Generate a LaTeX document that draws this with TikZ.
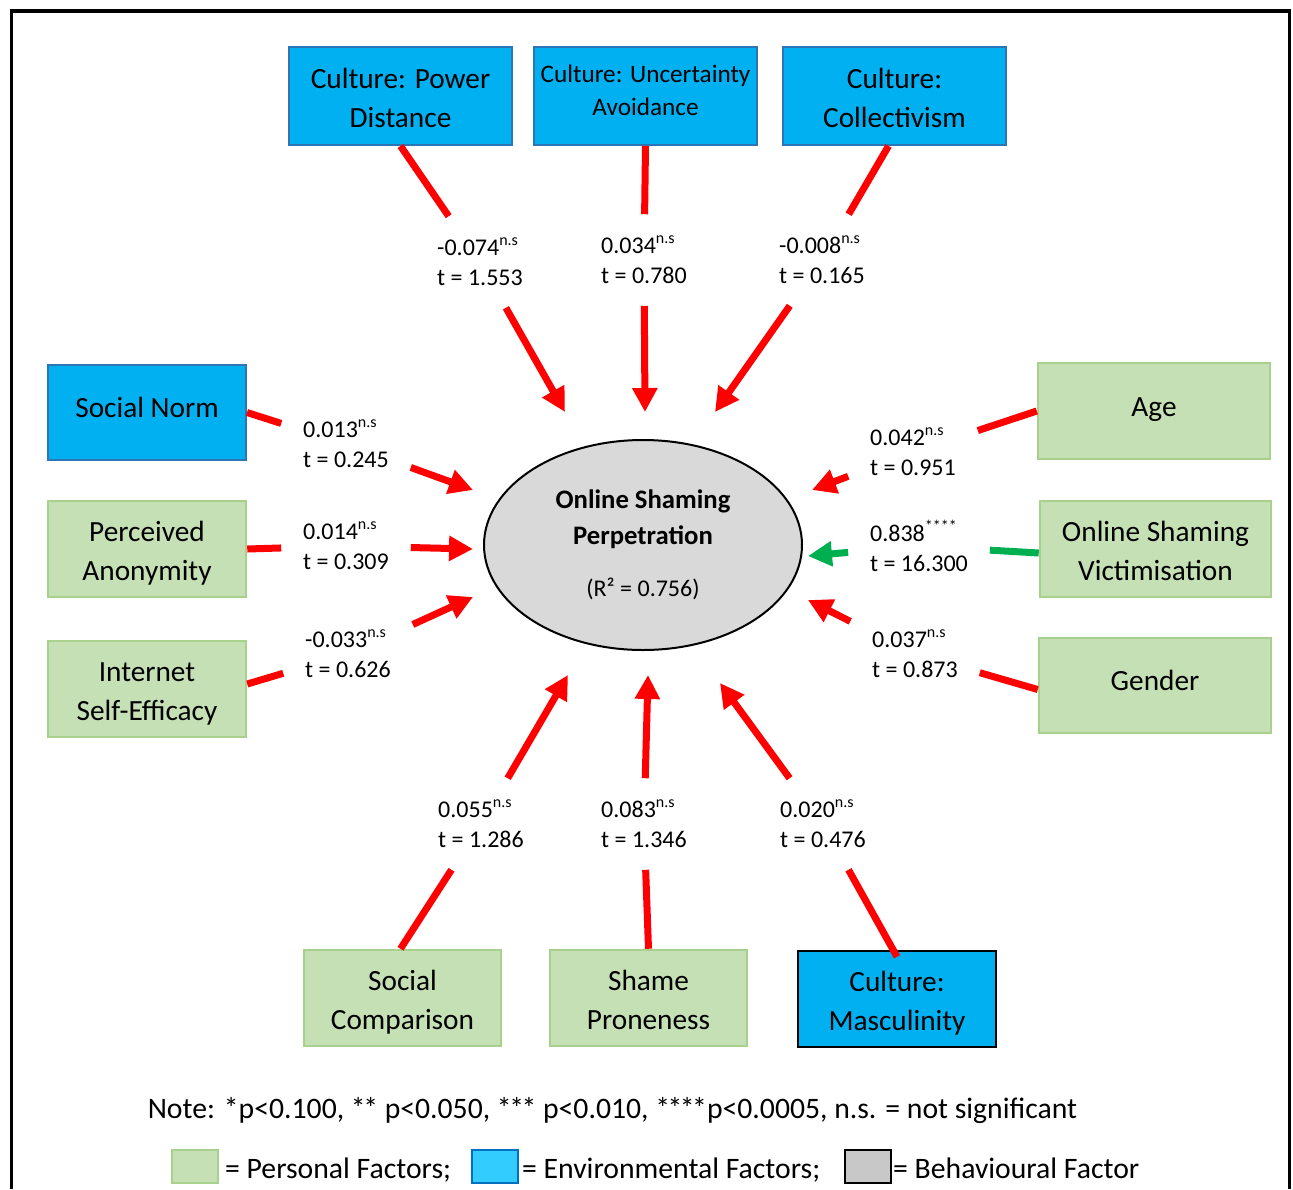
\documentclass[tikz,border=0pt]{standalone}
\usepackage{fontspec}
\setmainfont{Carlito}
\usetikzlibrary{arrows.meta,shapes.geometric}
\definecolor{envblue}{HTML}{00B0F0}
\definecolor{envedge}{HTML}{2E75B6}
\definecolor{perfill}{HTML}{C5E0B4}
\definecolor{peredge}{HTML}{A9D18E}
\definecolor{behfill}{HTML}{D9D9D9}
\definecolor{sigred}{HTML}{FF0000}
\definecolor{siggreen}{HTML}{00B050}
\definecolor{legblue}{HTML}{33CCFF}
\definecolor{legblueedge}{HTML}{0070C0}
\definecolor{leggray}{HTML}{C8C8C8}
\newcommand\nsmark{\raisebox{0.40em}{\fontsize{16}{16}\selectfont n.s}}
\newcommand\starmark[1]{\raisebox{0.40em}{\fontsize{16}{16}\selectfont #1}}
\newcommand\tst{*\kern-2.5pt}
\begin{document}
\begin{tikzpicture}[x=1pt,y=-1pt,
  box/.style={rectangle, align=center, inner sep=0pt, text=black, font=\fontsize{29.3}{39}\selectfont, text height=69pt, text depth=7pt},
  oneline/.style={text height=22pt, text depth=12pt},
  env/.style={box, fill=envblue, draw=envedge, line width=2pt},
  pers/.style={box, fill=perfill, draw=peredge, line width=2.5pt},
  lab/.style={align=left, inner sep=2pt, outer sep=20pt, font=\fontsize{24}{30}\selectfont},
  link/.style={draw=sigred, line width=7pt},
  arr/.style={link, -{Triangle[length=24pt,width=24pt]}},
  garr/.style={arr, draw=siggreen},
  legsq/.style={rectangle, minimum width=46pt, minimum height=33pt, inner sep=0pt, line width=2pt},
  legtxt/.style={anchor=base west, inner sep=0pt, font=\fontsize{29.7}{34}\selectfont},
]
\useasboundingbox (0,0) rectangle (1293,1189);
% frame
\draw[line width=3pt] (11,1189) -- (11,11) -- (1289.5,11) -- (1289.5,1189);
\draw[line width=4pt] (9.5,11) -- (1291,11);

% boxes
\node[env, minimum width=223pt, minimum height=98pt] (pd) at (400.5,96) {Culture: Power\\Distance};
\node[env, minimum width=223pt, minimum height=98pt, font=\fontsize{25.2}{33}\selectfont, text height=45pt, text depth=7pt] (ua) at (645.5,96) {Culture: Uncertainty\\Avoidance};
\node[env, minimum width=223pt, minimum height=98pt] (col) at (894.5,96) {Culture:\\Collectivism};
\node[env, oneline, minimum width=198pt, minimum height=95pt] (sn) at (147,412.5) {Social Norm};
\node[pers, minimum width=198pt, minimum height=96pt] (pa) at (147,549) {Perceived\\Anonymity};
\node[pers, minimum width=198pt, minimum height=96pt] (ise) at (147,689) {Internet\\Self-Efficacy};
\node[pers, oneline, minimum width=232pt, minimum height=96pt] (age) at (1154,411) {Age};
\node[pers, minimum width=231pt, minimum height=96pt] (osv) at (1155.5,549) {Online Shaming\\Victimisation};
\node[pers, oneline, minimum width=232pt, minimum height=95pt] (gen) at (1155,685.5) {Gender};
\node[pers, minimum width=197pt, minimum height=96pt] (sc) at (402.5,998) {Social\\Comparison};
\node[pers, minimum width=197pt, minimum height=96pt] (sp) at (648.5,998) {Shame\\Proneness};
\node[box, fill=envblue, draw=black, line width=2.5pt, minimum width=198pt, minimum height=96pt] (mas) at (897,999) {Culture:\\Masculinity};

% central construct
\node[ellipse, draw=black, line width=2pt, fill=behfill, minimum width=318pt, minimum height=210pt, inner sep=0pt, align=center, font=\fontsize{26.7}{36}\selectfont] (ell) at (643,545)
  {{\bfseries Online Shaming}\\{\bfseries Perpetration}\\[16pt]{\fontsize{24}{26}\selectfont (R² = 0.756)}};

% path labels
\node[lab] (lpd) at (480,262) {-0.074\nsmark\\t = 1.553};
\node[lab] (lua) at (644,260) {0.034\nsmark\\t = 0.780};
\node[lab] (lcol) at (822,260) {-0.008\nsmark\\t = 0.165};
\node[lab] (lsn) at (346,444) {0.013\nsmark\\t = 0.245};
\node[lab] (lpa) at (346,546) {0.014\nsmark\\t = 0.309};
\node[lab] (lise) at (348,654) {-0.033\nsmark\\t = 0.626};
\node[lab] (lage) at (913,452) {0.042\nsmark\\t = 0.951};
\node[lab] (losv) at (919,546) {0.838\starmark{****}\\t = 16.300};
\node[lab] (lgen) at (915,654) {0.037\nsmark\\t = 0.873};
\node[lab] (lsc) at (481,824) {0.055\nsmark\\t = 1.286};
\node[lab] (lsp) at (644,824) {0.083\nsmark\\t = 1.346};
\node[lab] (lmas) at (823,824) {0.020\nsmark\\t = 0.476};

% arrow tips
\coordinate (tpd) at (565,412);
\coordinate (tua) at (645,412);
\coordinate (tcol) at (715,412);
\coordinate (tsn) at (473,490);
\coordinate (tpa) at (473,549);
\coordinate (tise) at (473,597);
\coordinate (tage) at (812,490);
\coordinate (tosv) at (808,556);
\coordinate (tgen) at (808,600);
\coordinate (tsc) at (568,675);
\coordinate (tsp) at (648,675);
\coordinate (tmas) at (720,683);

% connectors
\draw[arr] (pd.south) -- (lpd) -- (tpd);
\draw[arr] (ua.south) -- (lua) -- (tua);
\draw[arr] ([xshift=-6pt]col.south) -- (lcol) -- (tcol);
\draw[arr] (sn.east) -- (lsn) -- (tsn);
\draw[arr] (pa.east) -- (lpa) -- (tpa);
\draw[arr] ([yshift=5pt]ise.east) -- (lise) -- (tise);
\draw[arr] (age.west) -- (lage) -- (tage);
\draw[garr] ([yshift=-4pt]osv.west) -- (losv) -- (tosv);
\draw[arr] ([yshift=-4pt]gen.west) -- (lgen) -- (tgen);
\draw[arr] ([xshift=-2pt]sc.north) -- (lsc) -- (tsc);
\draw[arr] (sp.north) -- (lsp) -- (tsp);
\draw[arr] ([yshift=-7pt]mas.north) -- (lmas) -- (tmas);

% note and legend
\node[anchor=base, inner sep=0pt, font=\fontsize{29.7}{34}\selectfont] (note) at (612.5,1118) {Note: *p<0.100, \tst* p<0.050, \tst\tst* p<0.010, \tst\tst\tst*p<0.0005, n.s. = not significant};
\node[legsq, fill=perfill, draw=peredge] (lg1) at (194.5,1166.5) {};
\node[legtxt] (lt1) at (225,1178) {= Personal Factors;};
\node[legsq, fill=legblue, draw=legblueedge] (lg2) at (495,1166.5) {};
\node[legtxt] (lt2) at (522,1178) {= Environmental Factors;};
\node[legsq, fill=leggray, draw=black] (lg3) at (867.5,1166.5) {};
\node[legtxt] (lt3) at (893,1178) {= Behavioural Factor};
\end{tikzpicture}
\end{document}
